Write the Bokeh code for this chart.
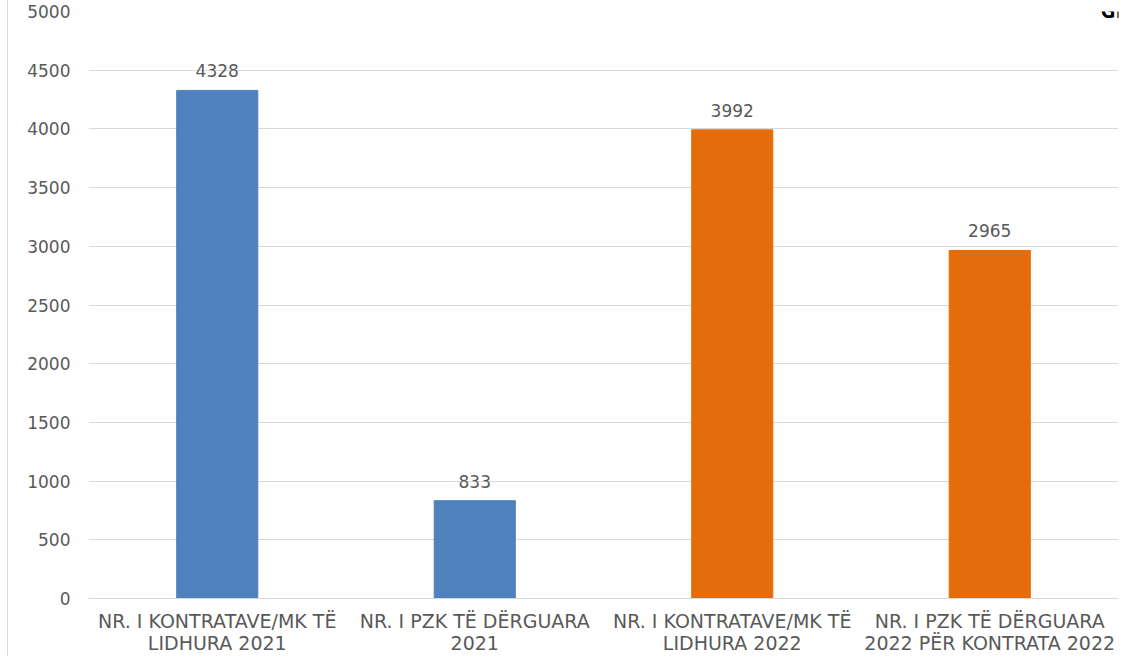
from bokeh.plotting import figure
from bokeh.models import ColumnDataSource, FactorRange, Range1d, Label, LabelSet, FixedTicker
from bokeh.core.properties import value
from bokeh.embed import file_html
from bokeh.resources import INLINE

categories = [
    "NR. I KONTRATAVE/MK TË\nLIDHURA 2021",
    "NR. I PZK TË DËRGUARA\n2021",
    "NR. I KONTRATAVE/MK TË\nLIDHURA 2022",
    "NR. I PZK TË DËRGUARA\n2022 PËR KONTRATA 2022",
]
values = [4328, 833, 3992, 2965]
colors = ["#4f81bd", "#4f81bd", "#e46c0a", "#e46c0a"]
y_ticks = [0, 500, 1000, 1500, 2000, 2500, 3000, 3500, 4000, 4500, 5000]

FONT = "DejaVu Sans"
GRAY = "#595959"
FS = "17px"

src = ColumnDataSource(dict(cat=categories, val=values, color=colors,
                            lbl=[str(v) for v in values]))

p = figure(width=1126, height=656, x_range=FactorRange(*categories, range_padding=0),
           y_range=Range1d(0, 5000), output_backend="svg", toolbar_location=None,
           min_border_left=88, min_border_right=8, min_border_top=11, min_border_bottom=58)
p.styles = {"background": "linear-gradient(to right, #ffffff 7px, #d9d9d9 7px, #d9d9d9 8px, #ffffff 8px)"}
p.border_fill_color = None
p.outline_line_color = None
p.background_fill_color = "white"

p.vbar(x="cat", top="val", width=0.315, color="color", source=src)

labels = LabelSet(x="cat", y="val", text="lbl", source=src, text_align="center",
                  text_baseline="bottom", y_offset=13, text_font=value(FONT),
                  text_font_size=value(FS), text_color=GRAY)
p.add_layout(labels)

p.yaxis.ticker = FixedTicker(ticks=y_ticks)
p.ygrid.grid_line_color = "#d9d9d9"
p.ygrid.grid_line_width = 1
p.xgrid.grid_line_color = None

for ax in (p.xaxis, p.yaxis):
    ax.major_tick_line_color = None
    ax.minor_tick_line_color = None
    ax.major_tick_out = 0
    ax.major_tick_in = 0
    ax.major_label_text_font = FONT
    ax.major_label_text_font_size = FS
    ax.major_label_text_color = GRAY
p.yaxis.axis_line_color = None
p.xaxis.axis_line_color = "#d9d9d9"
p.yaxis.major_label_standoff = 18
p.xaxis.major_label_text_font_size = "19px"
p.xaxis.major_label_standoff = 11
p.xaxis.major_label_text_line_height = 1.02

title = Label(x=3.93, y=5012, text="Grafiku", text_font="Open Sans", text_font_style="bold",
              text_font_size="21px", text_color="#000000", text_baseline="alphabetic")
p.add_layout(title)

open("out.html", "w").write(file_html(p, INLINE))
